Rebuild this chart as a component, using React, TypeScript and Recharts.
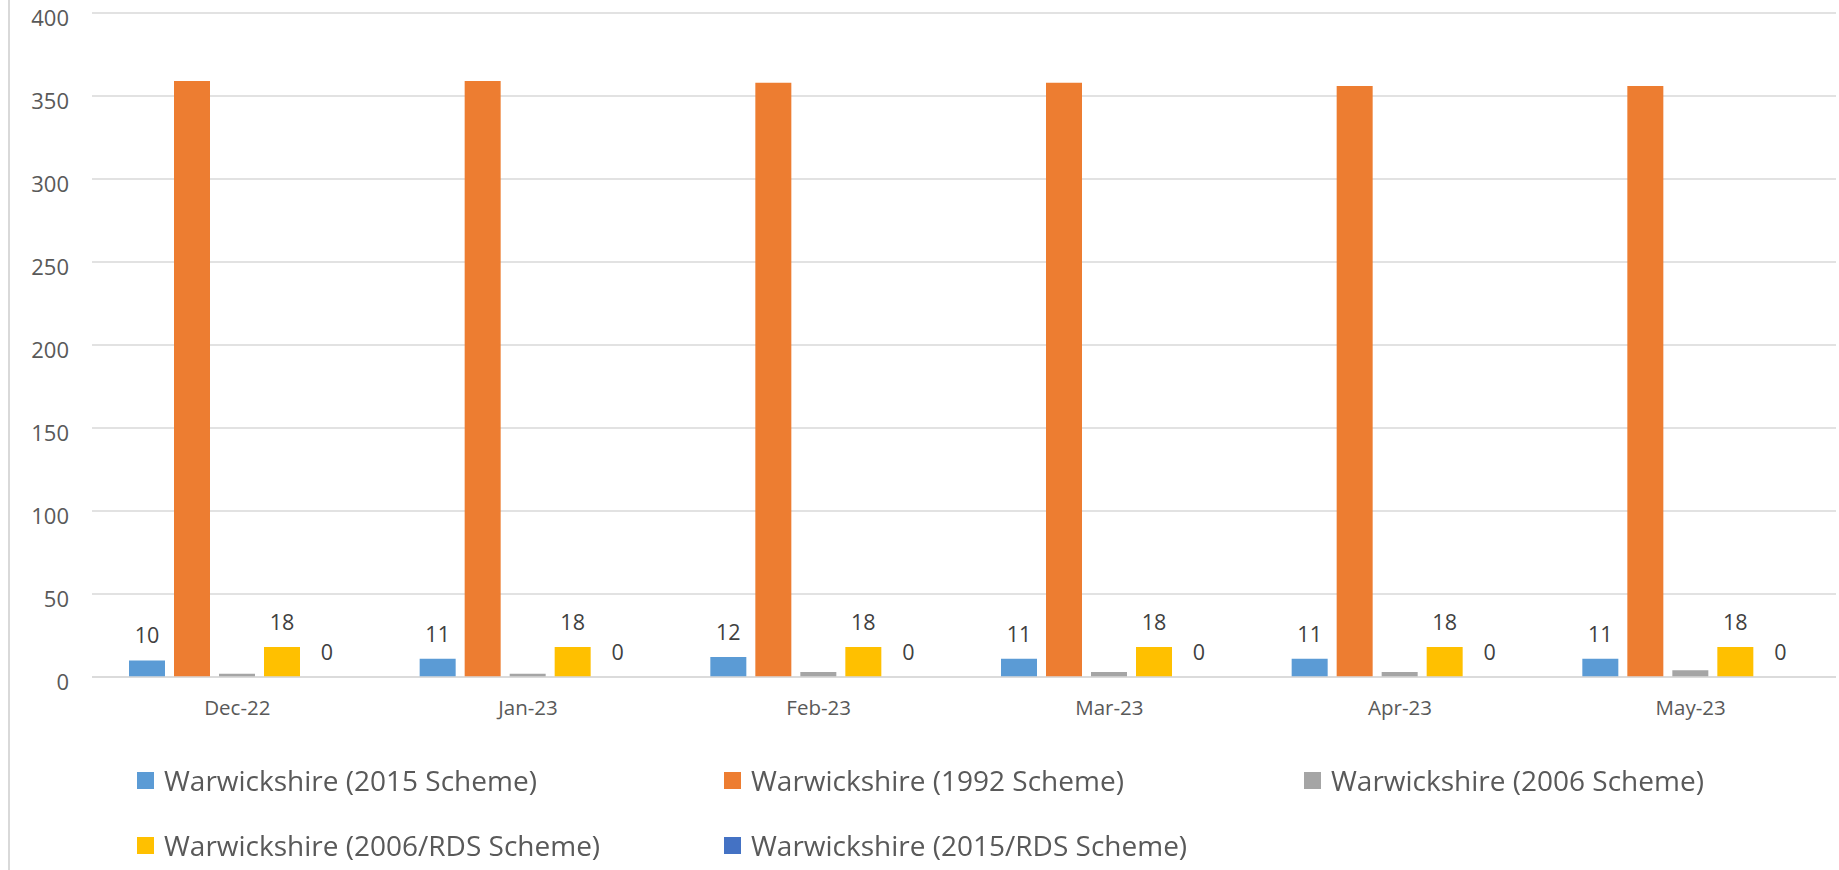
import React from 'react';
import { BarChart, Bar, XAxis, YAxis, CartesianGrid, Legend, LabelList } from 'recharts';

const months = ['Dec-22', 'Jan-23', 'Feb-23', 'Mar-23', 'Apr-23', 'May-23'];
const scheme2015 = [10, 11, 12, 11, 11, 11];
const scheme1992 = [359, 359, 358, 358, 356, 356];
const scheme2006 = [2, 2, 3, 3, 3, 4];
const scheme2006Rds = [18, 18, 18, 18, 18, 18];
const scheme2015Rds = [0, 0, 0, 0, 0, 0];
const yTicks = [0, 50, 100, 150, 200, 250, 300, 350, 400];

const series = [
  { key: 's2015', name: 'Warwickshire (2015 Scheme)', color: '#5b9bd5', label: true },
  { key: 's1992', name: 'Warwickshire (1992 Scheme)', color: '#ed7d31', label: false },
  { key: 's2006', name: 'Warwickshire (2006 Scheme)', color: '#a5a5a5', label: false },
  { key: 's2006rds', name: 'Warwickshire (2006/RDS Scheme)', color: '#ffc000', label: true },
  { key: 's2015rds', name: 'Warwickshire (2015/RDS Scheme)', color: '#4472c4', label: true },
];

const data = months.map((m, i) => ({
  month: m,
  s2015: scheme2015[i],
  s1992: scheme1992[i],
  s2006: scheme2006[i],
  s2006rds: scheme2006Rds[i],
  s2015rds: scheme2015Rds[i],
}));

const colWidths = [587, 580, 560];

// legend in the series order (the payload comes sorted otherwise)
function LegendBox() {
  return (
    <div
      style={{
        display: 'grid',
        gridTemplateColumns: colWidths.map((w) => w + 'px').join(' '),
        gridAutoRows: '50px',
        rowGap: 15,
        paddingLeft: 127,
        height: 115,
        boxSizing: 'border-box',
      }}
    >
      {series.map((s) => (
        <div key={s.key} style={{ display: 'flex', alignItems: 'center' }}>
          <span style={{ width: 17, height: 17, background: s.color, display: 'inline-block', marginRight: 10 }} />
          <span style={{ fontSize: 28, color: '#595959', whiteSpace: 'nowrap' }}>{s.name}</span>
        </div>
      ))}
    </div>
  );
}

const renderLabel = (props: any) => {
  const { x, y, width, value } = props;
  return (
    <text
      x={Number(x) + Number(width) / 2}
      y={Number(y) - 17}
      textAnchor="middle"
      fill="#404040"
      fontSize={21.5}
    >
      {value}
    </text>
  );
};

export default function App() {
  return (
    <div
      style={{
        position: 'fixed',
        left: 8,
        top: 0,
        width: 1829,
        height: 870,
        borderLeft: '2px solid #d9d9d9',
        background: '#fff',
        fontFamily: '"Open Sans", sans-serif',
      }}
    >
      <BarChart
        width={1829}
        height={870}
        data={data}
        margin={{ top: 13, right: 3, bottom: 0, left: 0 }}
        barSize={36}
        barGap={9}
      >
        <CartesianGrid vertical={false} stroke="#d9d9d9" strokeWidth={1.5} />
        <XAxis
          dataKey="month"
          height={78}
          tickLine={false}
          axisLine={{ stroke: '#d9d9d9', strokeWidth: 1.5 }}
          tickSize={0}
          tickMargin={23}
          tick={{ fill: '#595959', fontSize: 20.5 }}
        />
        <YAxis
          width={82}
          domain={[0, 400]}
          ticks={yTicks}
          tickLine={false}
          axisLine={false}
          tickSize={0}
          tickMargin={23}
          tick={{ fill: '#595959', fontSize: 22, dy: 5 }}
        />
        <Legend verticalAlign="bottom" content={<LegendBox />} />
        {series.map((s) => (
          <Bar
            key={s.key}
            dataKey={s.key}
            name={s.name}
            fill={s.color}
            minPointSize={s.key === 's2015rds' ? 0.001 : 0}
            isAnimationActive={false}
          >
            {s.label && <LabelList dataKey={s.key} content={renderLabel} />}
          </Bar>
        ))}
      </BarChart>
    </div>
  );
}
